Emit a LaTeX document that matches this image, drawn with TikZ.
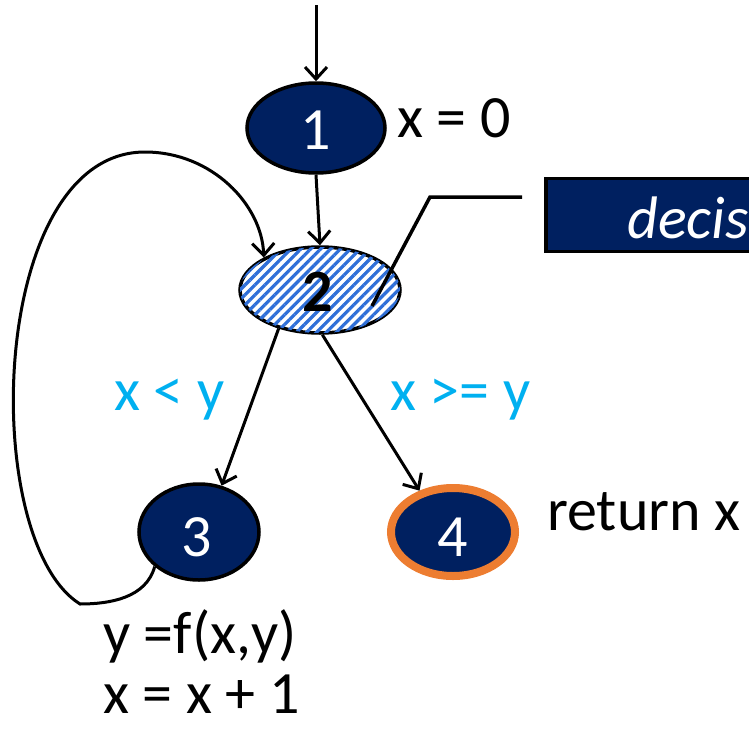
\documentclass[tikz,border=0pt]{standalone}
\usepackage{fontspec}
\setmainfont{Carlito}
\usetikzlibrary{shapes.geometric,arrows.meta,patterns.meta}
\definecolor{navy}{HTML}{002060}
\definecolor{cyanl}{HTML}{00B0F0}
\definecolor{orng}{HTML}{ED7D31}
\definecolor{hatchblue}{HTML}{2F6FD8}
\begin{document}
\begin{tikzpicture}[x=1pt,y=-1pt,
  big/.style={font=\fontsize{60}{72}\selectfont},
  num/.style={font=\fontsize{60}{72}\selectfont},
  vnode/.style={ellipse,draw=black,line width=3.5pt,fill=navy,text=white,inner sep=0pt,num},
  arr/.style={line width=3pt,-{Straight Barb[length=12pt,width=22pt,line width=3pt]}},
  cond/.style={big,text=cyanl,anchor=base west,inner sep=0pt},
  txt/.style={big,text=black,anchor=base west,inner sep=0pt}]
\useasboundingbox (0,0) rectangle (749,728);
% nodes
\node[vnode,minimum width=138pt,minimum height=90pt] (n1) at (316,128) {};
\node[num,text=white,inner sep=0pt] at (316,130) {1};
\node[ellipse,draw=black,line width=3.5pt,inner sep=0pt,minimum width=160pt,minimum height=86pt,
  fill=white,postaction={pattern={Lines[angle=45,distance=7pt,line width=3.2pt]},pattern color=hatchblue}] (n2) at (320,290) {};
\node[inner sep=0pt,font=\fontsize{60}{72}\selectfont\bfseries] at (318,292) {2};
\node[vnode,minimum width=120pt,minimum height=96pt] (n3) at (199,532) {};
\node[num,text=white,inner sep=0pt] at (197,537) {3};
\node[vnode,draw=orng,line width=8pt,minimum width=124pt,minimum height=88pt] (n4) at (453,532) {};
\node[num,text=white,inner sep=0pt] at (453,537) {4};
% box
\node[draw=black,line width=3.5pt,fill=navy,minimum width=360pt,minimum height=73pt,anchor=west,inner sep=0pt] (box) at (544,215) {};
\node[text=white,anchor=base west,inner sep=0pt,font=\fontsize{60}{72}\selectfont\itshape] (lbl) at (627,238) {decis};
% coordinates
\coordinate (top) at (316,5);
\coordinate (c1) at (430,197);
\coordinate (c2) at (522,197);
% edges
\draw[arr] (top) -- (n1.north);
\draw[arr] (n1.south) -- (n2.north);
\draw[arr] (n2.223) -- (n3.64);
\draw[arr] (n2.273) -- (n4.129);
\draw[line width=3.5pt] ([shift={(52pt,-16pt)}]n2.center) -- (c1) -- (c2);
\draw[arr] (n3.218) .. controls (146,598) and (110,604) .. (80,604)
  .. controls (-22,540) and (-12,152) .. (145,152)
  .. controls (212,152) and (262,205) .. (n2.150);
% labels
\node[txt] (t1) at (397,137) {x = 0};
\node[cond] (cl) at (114,410) {x {\char`<} y};
\node[cond] (cr) at (390,410) {x {\char`>}= y};
\node[txt] (t4) at (547,530) {return x};
\node[txt] (t3a) at (103,653) {y =f(x,y)};
\node[txt] (t3b) at (103,713) {x = x + 1};
\end{tikzpicture}
\end{document}
